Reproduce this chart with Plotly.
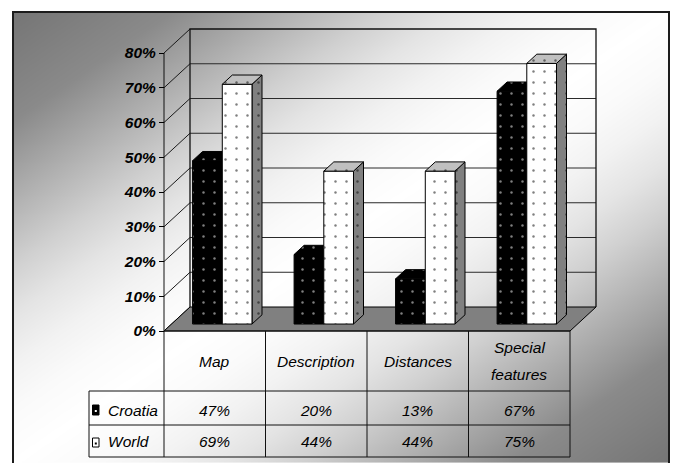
import numpy as np
import plotly.graph_objects as go

# ---- data ---------------------------------------------------------------
categories = ["Map", "Description", "Distances", "Special features"]
category_lines = [["Map"], ["Description"], ["Distances"], ["Special", "features"]]
croatia = [47, 20, 13, 67]
world = [69, 44, 44, 75]
series_names = ["Croatia", "World"]
y_ticks = [0, 10, 20, 30, 40, 50, 60, 70, 80]
y_tick_labels = [f"{t}%" for t in y_ticks]

# ---- canvas / axis scale -------------------------------------------------
W, H = 674, 463
PX_CAT = 101.5      # pixels per category slot
PX_PCT = 3.475      # pixels per percentage point
X0_PX, Y0_PX = 164, 331   # front-left floor corner (category edge -0.5, 0 %)


def dx(px):
    return -0.5 + (px - X0_PX) / PX_CAT


def dy(py):
    return (Y0_PX - py) / PX_PCT


def pap(py):
    return 1 - py / H


# oblique depth projection: z = 0 is the front plane, z = 1 the back wall
DEPTH_X = 26 / PX_CAT
DEPTH_Y = 24 / PX_PCT


def proj(x, y, z):
    return x + z * DEPTH_X, y + z * DEPTH_Y


def poly(points):
    xs, ys = zip(*[proj(*p) for p in points])
    return list(xs) + [xs[0]], list(ys) + [ys[0]]


X_LO, X_HI = -0.5, len(categories) - 0.5
Y_MAX = 80
BAR_W = 29.7 / PX_CAT
Z_FRONT, Z_BACK = 0.29, 0.675

FONT = "Liberation Sans, Arial, sans-serif"

fig = go.Figure()

# ---- diagonal grey background -------------------------------------------
gx = np.linspace(14, 668, 220)
gy = np.linspace(463, 13, 160)
u = (gx - 13) / 656
v = (gy - 12) / 451
Z = np.abs(u[None, :] + v[:, None] - 1)
bg_scale = [[0.0, "#ffffff"], [0.12, "#fafafa"], [0.22, "#f2f2f2"],
            [0.33, "#e4e4e4"], [0.44, "#d0d0d0"], [0.55, "#b8b8b8"],
            [0.66, "#a0a0a0"], [0.76, "#8a8a8a"], [1.0, "#757575"]]
fig.add_trace(go.Heatmap(x=[dx(p) for p in gx], y=[dy(p) for p in gy], z=Z,
                         zmin=0, zmax=1, colorscale=bg_scale, zsmooth="best",
                         showscale=False, hoverinfo="skip"))


def add_lines(segments, color="#1a1a1a", width=1):
    xs, ys = [], []
    for seg in segments:
        for p in seg:
            x, y = proj(*p)
            xs.append(x)
            ys.append(y)
        xs.append(None)
        ys.append(None)
    fig.add_trace(go.Scatter(x=xs, y=ys, mode="lines",
                             line=dict(color=color, width=width),
                             hoverinfo="skip", showlegend=False))


# ---- walls ----------------------------------------------------------------
grid = [[(X_LO, t, 1), (X_HI, t, 1)] for t in y_ticks[1:-1]]
add_lines(grid, color="#2a2a2a", width=1)
side = [[(X_LO, t, 0), (X_LO, t, 1)] for t in y_ticks]
add_lines(side, color="#1a1a1a", width=1)
add_lines([[(X_LO, 0, 1), (X_LO, Y_MAX, 1), (X_HI, Y_MAX, 1), (X_HI, 0, 1)]],
          color="#111111", width=1.3)

# ---- floor ----------------------------------------------------------------
fx, fy = poly([(X_LO, 0, 0), (X_HI, 0, 0), (X_HI, 0, 1), (X_LO, 0, 1)])
fig.add_trace(go.Scatter(x=fx, y=fy, mode="lines", fill="toself",
                         fillcolor="#808080", line=dict(color="#000000", width=1),
                         hoverinfo="skip", showlegend=False))


def face(points, bg, fg):
    xs, ys = poly(points)
    fig.add_trace(go.Scatter(
        x=xs, y=ys, mode="lines", fill="toself", fillcolor=bg,
        fillpattern=dict(shape=".", bgcolor=bg, fgcolor=fg, size=11,
                         solidity=0.04),
        line=dict(color="#000000", width=1), hoverinfo="skip",
        showlegend=False))


def bar(x0, x1, val, front, top, side_c, dots):
    zf, zb = Z_FRONT, Z_BACK
    face([(x1, 0, zf), (x1, 0, zb), (x1, val, zb), (x1, val, zf)], side_c, dots)
    face([(x0, 0, zf), (x1, 0, zf), (x1, val, zf), (x0, val, zf)], front, dots)
    face([(x0, val, zf), (x1, val, zf), (x1, val, zb), (x0, val, zb)], top, dots)


# ---- bars -----------------------------------------------------------------
for i in range(len(categories)):
    bar(i - BAR_W, i, croatia[i], "#000000", "#000000", "#000000", "#ffffff")
    bar(i, i + BAR_W, world[i], "#ffffff", "#c0c0c0", "#808080", "#000000")

# ---- front axis line and data table grid ---------------------------------
table_left = dx(89)
row_lines_px = [391, 425, 457]
tbl_x, tbl_y = [], []


def seg(x0, y0, x1, y1):
    tbl_x.extend([x0, x1, None])
    tbl_y.extend([y0, y1, None])


seg(X_LO, Y_MAX, X_LO, dy(457))
for k in range(1, len(categories) + 1):
    seg(X_LO + k, 0, X_LO + k, dy(457))
for r in row_lines_px:
    seg(table_left, dy(r), X_HI, dy(r))
seg(X_LO, 0, X_HI, 0)
seg(table_left, dy(391), table_left, dy(457))
fig.add_trace(go.Scatter(x=tbl_x, y=tbl_y, mode="lines",
                         line=dict(color="#111111", width=1),
                         hoverinfo="skip", showlegend=False))

# ---- legend keys in the table --------------------------------------------
key_rows = [(405, 415, "#000000", "#ffffff"), (438, 447, "#ffffff", "#000000")]
for top_px, bot_px, fill, dot in key_rows:
    kx = [dx(92.5), dx(99), dx(99), dx(92.5), dx(92.5)]
    ky = [dy(bot_px), dy(bot_px), dy(top_px), dy(top_px), dy(bot_px)]
    fig.add_trace(go.Scatter(x=kx, y=ky, mode="lines", fill="toself",
                             fillcolor=fill, line=dict(color="#000000", width=1),
                             hoverinfo="skip", showlegend=False))
    fig.add_trace(go.Scatter(x=[dx(95.8)], y=[dy((top_px + bot_px) / 2 + 1)],
                             mode="markers",
                             marker=dict(color=dot, size=2, symbol="square"),
                             hoverinfo="skip", showlegend=False))

# ---- table text -----------------------------------------------------------
txt_font = dict(family=FONT, size=15.5, color="#000000", style="italic")
ann = []
for i, lines in enumerate(category_lines):
    if len(lines) == 1:
        ann.append(dict(x=i, y=pap(361), text=lines[0]))
    else:
        ann.append(dict(x=i, y=pap(347), text=lines[0]))
        ann.append(dict(x=i, y=pap(374), text=lines[1]))
for i in range(len(categories)):
    ann.append(dict(x=i, y=pap(410), text=f"{croatia[i]}%"))
    ann.append(dict(x=i, y=pap(441), text=f"{world[i]}%"))
for a in ann:
    a.update(xref="x", yref="paper", showarrow=False, font=txt_font,
             xanchor="center", yanchor="middle")
for name, py in zip(series_names, [410, 441]):
    ann.append(dict(x=dx(106), y=pap(py), xref="x", yref="paper", text=name,
                    showarrow=False, font=txt_font, xanchor="left",
                    yanchor="middle"))

# ---- frame ----------------------------------------------------------------
shapes = [dict(type="rect", xref="paper", yref="paper",
               x0=13 / W, x1=669 / W, y0=pap(475), y1=pap(12),
               line=dict(color="#1c1c1c", width=2), fillcolor="rgba(0,0,0,0)")]

fig.update_layout(
    width=W, height=H, margin=dict(l=0, r=0, t=0, b=0),
    paper_bgcolor="#ffffff", plot_bgcolor="#ffffff",
    showlegend=False, annotations=ann, shapes=shapes,
    xaxis=dict(range=[dx(0), dx(W)], showgrid=False, zeroline=False,
               showticklabels=False, ticks="", showline=False,
               fixedrange=True),
    yaxis=dict(range=[dy(H), dy(0)], showgrid=False, zeroline=False,
               showline=False, anchor="free", position=X0_PX / W,
               tickmode="array", tickvals=y_ticks, ticktext=y_tick_labels,
               ticks="outside", ticklen=5, tickwidth=1, tickcolor="#000000",
               tickfont=dict(family=FONT, size=15.5, color="#000000",
                             weight="bold", style="italic"),
               fixedrange=True),
)

fig.write_html("out.html")
